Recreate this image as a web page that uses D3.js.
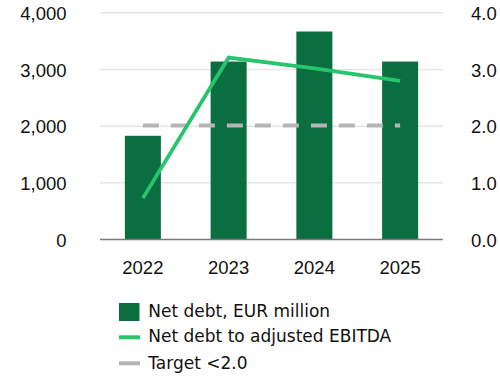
<!DOCTYPE html>
<html>
<head>
<meta charset="utf-8">
<script src="https://cdn.jsdelivr.net/npm/d3@7"></script>
<style>
  html, body { margin: 0; padding: 0; background: #fff; }
  svg { display: block; }
  text { font-family: "Liberation Sans", Arial, sans-serif; fill: #111; }
  text.item { font-family: "DejaVu Sans", sans-serif; }
</style>
</head>
<body>
<svg id="chart" width="500" height="376"></svg>
<script>
// Net debt (bars, left axis) and leverage ratio (line, right axis)
const years = ["2022", "2023", "2024", "2025"];
const netDebt = [1830, 3140, 3670, 3140];          // EUR million
const leverage = [0.73, 3.21, 3.02, 2.80];          // net debt / adjusted EBITDA
const target = 2.0;
const leftTicks = [0, 1000, 2000, 3000, 4000];
const rightTicks = [0, 1, 2, 3, 4];
const legendItems = ["Net debt, EUR million", "Net debt to adjusted EBITDA", "Target <2.0"];

const colors = { bar: "#0b6e40", line: "#27c46e", target: "#b5b5b5", grid: "#e6e6e6", base: "#7a7a7a" };

const svg = d3.select("#chart");
const plot = { left: 100, right: 443, top: 12.8, bottom: 239.5 };

const x = d3.scaleBand().domain(years).range([plot.left, plot.right])
  .paddingInner(0.58).paddingOuter(0.29);
const yL = d3.scaleLinear().domain([0, 4000]).range([plot.bottom, plot.top]);
const yR = d3.scaleLinear().domain([0, 4]).range([plot.bottom, plot.top]);
const cx = d => x(d) + x.bandwidth() / 2;

// gridlines
svg.append("g").selectAll("line").data(leftTicks.filter(t => t > 0)).join("line")
  .attr("x1", plot.left).attr("x2", plot.right)
  .attr("y1", d => yL(d)).attr("y2", d => yL(d))
  .attr("stroke", colors.grid).attr("stroke-width", 1.5);

// left axis labels
const fmt = d3.format(",");
svg.append("g").selectAll("text").data(leftTicks).join("text")
  .attr("x", 66.5).attr("y", d => yL(d)).attr("dy", "0.38em")
  .attr("text-anchor", "end").attr("font-size", 18.5)
  .text(d => fmt(d));

// right axis labels
svg.append("g").selectAll("text").data(rightTicks).join("text")
  .attr("x", 471).attr("y", d => yR(d)).attr("dy", "0.38em")
  .attr("text-anchor", "start").attr("font-size", 18.5)
  .text(d => d3.format(".1f")(d));

// bars
svg.append("g").selectAll("rect").data(years).join("rect")
  .attr("x", d => x(d)).attr("width", x.bandwidth())
  .attr("y", (d, i) => yL(netDebt[i]))
  .attr("height", (d, i) => yL(0) - yL(netDebt[i]))
  .attr("fill", colors.bar);

// baseline
svg.append("line")
  .attr("x1", plot.left).attr("x2", plot.right)
  .attr("y1", yL(0)).attr("y2", yL(0))
  .attr("stroke", colors.base).attr("stroke-width", 1.5);

// target line
svg.append("line")
  .attr("x1", cx(years[0])).attr("x2", cx(years[years.length - 1]))
  .attr("y1", yR(target) - 0.6).attr("y2", yR(target) - 0.6)
  .attr("stroke", colors.target).attr("stroke-width", 4)
  .attr("stroke-dasharray", "16 12");

// leverage line
svg.append("path")
  .datum(years.map((d, i) => [cx(d), yR(leverage[i])]))
  .attr("d", d3.line())
  .attr("fill", "none").attr("stroke", colors.line).attr("stroke-width", 3.8);

// x axis labels
svg.append("g").selectAll("text").data(years).join("text")
  .attr("x", d => cx(d)).attr("y", 274.3)
  .attr("text-anchor", "middle").attr("font-size", 18.5)
  .text(d => d);

// legend
const lg = svg.append("g");
const rowY = [312, 337.3, 363.3];
lg.append("rect").attr("x", 119).attr("y", 303).attr("width", 20.5).attr("height", 18)
  .attr("fill", colors.bar);
lg.append("line").attr("x1", 119).attr("x2", 140).attr("y1", rowY[1]).attr("y2", rowY[1])
  .attr("stroke", colors.line).attr("stroke-width", 4);
lg.append("line").attr("x1", 119).attr("x2", 140).attr("y1", rowY[2]).attr("y2", rowY[2])
  .attr("stroke", colors.target).attr("stroke-width", 4);
lg.selectAll("text.item").data(legendItems).join("text")
  .attr("class", "item")
  .attr("x", 148.3).attr("y", (d, i) => [316.7, 342, 368.5][i])
  .attr("font-size", 17)
  .text(d => d);
</script>
</body>
</html>
